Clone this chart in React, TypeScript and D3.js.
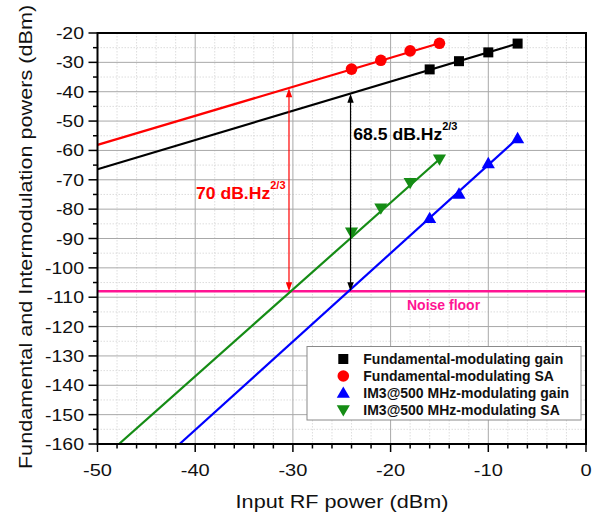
import React from "react";
import * as d3 from "d3";

// ---------- data ----------
const fundGainX = [-16, -13, -10, -7];
const fundGainY = [-32.4, -29.6, -26.6, -23.6];
const fundSaX = [-24, -21, -18, -15];
const fundSaY = [-32.3, -29.3, -26.1, -23.5];
const im3GainX = [-16, -13, -10, -7];
const im3GainY = [-83.1, -74.8, -64.4, -55.9];
const im3SaX = [-24, -21, -18, -15];
const im3SaY = [-87.9, -79.7, -71.0, -63.0];

// fitted lines (endpoints)
const fundGainFitX = [-50, -7];
const fundGainFitY = [-66.4, -23.6];
const fundSaFitX = [-50, -15];
const fundSaFitY = [-58.1, -23.5];
const im3GainFitX = [-41.6, -7];
const im3GainFitY = [-160, -55.9];
const im3SaFitX = [-47.8, -15];
const im3SaFitY = [-160, -63.0];

const noiseFloor = -108;
const arrowX = [-30.4, -24.1];
const arrowTopY = [-38.8, -40.7];
const arrowColors = ["#ff0000", "#000000"];

const xTicks = [-50, -40, -30, -20, -10, 0];
const yTicks = [-20, -30, -40, -50, -60, -70, -80, -90, -100, -110, -120, -130, -140, -150, -160];
const xMinor = d3.range(-48, 0, 2).filter((v) => v % 10 !== 0);
const yMinor = d3.range(-155, -20, 10);

const legendLabels = [
  "Fundamental-modulating gain",
  "Fundamental-modulating SA",
  "IM3@500 MHz-modulating gain",
  "IM3@500 MHz-modulating SA",
];

const RED = "#ff0000";
const BLACK = "#000000";
const BLUE = "#0000ff";
const GREEN = "#158c15";
const MAGENTA = "#ff1493";
const FONT = "'Liberation Sans', Arial, Helvetica, sans-serif";

// ---------- layout ----------
const W = 602;
const H = 518;
const L = 97.5;
const R = 586;
const T = 33;
const B = 444;

const x = d3.scaleLinear().domain([-50, 0]).range([L, R]);
const y = d3.scaleLinear().domain([-160, -20]).range([B, T]);

const zip = (xs: number[], ys: number[]) => xs.map((v, i) => [v, ys[i]] as [number, number]);
const lineGen = d3.line<[number, number]>().x((d) => x(d[0])).y((d) => y(d[1]));

function Marker({ kind, cx, cy, color }: { kind: string; cx: number; cy: number; color: string }) {
  if (kind === "square") return <rect x={cx - 5} y={cy - 5} width={10} height={10} fill={color} />;
  if (kind === "circle") return <circle cx={cx} cy={cy} r={5.8} fill={color} />;
  const sym = d3.symbol().type(d3.symbolTriangle).size(75)();
  if (kind === "up") return <path d={sym || ""} transform={`translate(${cx},${cy + 1})`} fill={color} />;
  return <path d={sym || ""} transform={`translate(${cx},${cy - 1}) rotate(180)`} fill={color} />;
}

function Arrow({ xv, y1v, y2v, color }: { xv: number; y1v: number; y2v: number; color: string }) {
  const px = x(xv);
  const top = y(y1v);
  const bot = y(y2v);
  const hl = 9;
  const hw = 3.2;
  return (
    <g>
      <line x1={px} x2={px} y1={top + hl - 1} y2={bot - hl + 1} stroke={color} strokeWidth={1.2} />
      <path d={`M${px},${top} L${px - hw},${top + hl} L${px + hw},${top + hl} Z`} fill={color} />
      <path d={`M${px},${bot} L${px - hw},${bot - hl} L${px + hw},${bot - hl} Z`} fill={color} />
    </g>
  );
}

export default function App() {
  const series = [
    { fit: zip(fundGainFitX, fundGainFitY), pts: zip(fundGainX, fundGainY), color: BLACK, kind: "square" },
    { fit: zip(fundSaFitX, fundSaFitY), pts: zip(fundSaX, fundSaY), color: RED, kind: "circle" },
    { fit: zip(im3GainFitX, im3GainFitY), pts: zip(im3GainX, im3GainY), color: BLUE, kind: "up" },
    { fit: zip(im3SaFitX, im3SaFitY), pts: zip(im3SaX, im3SaY), color: GREEN, kind: "down" },
  ];
  const legendX = 307;
  const legendY = 346.5;
  const legendRowY = [359, 376, 393, 410];

  return (
    <div style={{ position: "absolute", left: 0, top: 0 }}>
      <svg width={W} height={H} style={{ display: "block", background: "#fff" }} fontFamily={FONT}>
        <defs>
          <clipPath id="plot">
            <rect x={L} y={T} width={R - L} height={B - T} />
          </clipPath>
        </defs>
        {/* minor grid */}
        <g stroke="#d4d4d4" strokeWidth={0.8} strokeDasharray="1.5,1.5">
          {xMinor.map((v) => (
            <line key={"xm" + v} x1={x(v)} x2={x(v)} y1={T} y2={B} />
          ))}
          {yMinor.map((v) => (
            <line key={"ym" + v} x1={L} x2={R} y1={y(v)} y2={y(v)} />
          ))}
        </g>
        {/* major grid */}
        <g stroke="#a8a8a8" strokeWidth={1}>
          {xTicks.slice(1, -1).map((v) => (
            <line key={"xg" + v} x1={x(v)} x2={x(v)} y1={T} y2={B} />
          ))}
          {yTicks.slice(1, -1).map((v) => (
            <line key={"yg" + v} x1={L} x2={R} y1={y(v)} y2={y(v)} />
          ))}
        </g>

        {/* noise floor */}
        <line x1={L} x2={R} y1={y(noiseFloor)} y2={y(noiseFloor)} stroke={MAGENTA} strokeWidth={2.5} />

        {/* fits and markers */}
        <g clipPath="url(#plot)">
          {series.map((s, i) => (
            <path key={"f" + i} d={lineGen(s.fit) || ""} fill="none" stroke={s.color} strokeWidth={2.2} />
          ))}
        </g>
        {series.map((s, i) => (
          <g key={"m" + i}>
            {s.pts.map((p, j) => (
              <Marker key={j} kind={s.kind} cx={x(p[0])} cy={y(p[1])} color={s.color} />
            ))}
          </g>
        ))}

        {/* arrows */}
        {arrowX.map((v, i) => (
          <Arrow key={"a" + i} xv={v} y1v={arrowTopY[i]} y2v={noiseFloor} color={arrowColors[i]} />
        ))}

        {/* annotations */}
        <text
          transform="translate(196,199.3) scale(1.1,1)"
          fill={RED}
          fontWeight="bold"
          fontSize={16}
        >
          70 dB.Hz
          <tspan fontSize={10} dy={-10}>
            2/3
          </tspan>
        </text>
        <text
          transform="translate(353.3,140) scale(1.1,1)"
          fill={BLACK}
          fontWeight="bold"
          fontSize={16}
        >
          68.5 dB.Hz
          <tspan fontSize={10} dy={-10}>
            2/3
          </tspan>
        </text>
        <text x={407} y={310} fill={MAGENTA} fontWeight="bold" fontSize={14}>
          Noise floor
        </text>

        {/* legend */}
        <rect x={legendX} y={legendY} width={581 - legendX} height={420 - legendY} fill="#fff" stroke="#8a8a8a" strokeWidth={1} />
        {series.map((s, i) => (
          <g key={"l" + i}>
            <Marker kind={s.kind} cx={343.3} cy={legendRowY[i]} color={s.color} />
            <text x={363.3} y={legendRowY[i] + 5} fontSize={14} fontWeight="bold" fill="#111">
              {legendLabels[i]}
            </text>
          </g>
        ))}

        {/* frame */}
        <rect x={L} y={T} width={R - L} height={B - T} fill="none" stroke="#000" strokeWidth={2} />

        {/* ticks */}
        <g stroke="#000" strokeWidth={1.5}>
          {xTicks.map((v) => (
            <line key={"xt" + v} x1={x(v)} x2={x(v)} y1={B} y2={B + 8} />
          ))}
          {xMinor.map((v) => (
            <line key={"xmt" + v} x1={x(v)} x2={x(v)} y1={B} y2={B + 4.5} />
          ))}
          {yTicks.map((v) => (
            <line key={"yt" + v} x1={L - 9} x2={L} y1={y(v)} y2={y(v)} />
          ))}
          {yMinor.map((v) => (
            <line key={"ymt" + v} x1={L - 4.5} x2={L} y1={y(v)} y2={y(v)} />
          ))}
        </g>
        {xTicks.map((v) => (
          <text
            key={"xl" + v}
            transform={`translate(${x(v)},476) scale(1.18,1)`}
            textAnchor="middle"
            fontSize={17}
            fill="#111"
          >
            {v}
          </text>
        ))}
        {yTicks.map((v) => (
          <text
            key={"yl" + v}
            transform={`translate(84,${y(v) + 6}) scale(1.18,1)`}
            textAnchor="end"
            fontSize={16.5}
            fill="#111"
          >
            {v}
          </text>
        ))}

        {/* axis titles */}
        <text
          transform={`translate(342,507.5) scale(1.17,1)`}
          textAnchor="middle"
          fontSize={18.5}
          fill="#111"
        >
          Input RF power (dBm)
        </text>
        <text
          transform={`translate(31.5,237) rotate(-90) scale(1.17,1)`}
          textAnchor="middle"
          fontSize={18.5}
          fill="#111"
        >
          Fundamental and Intermodulation powers (dBm)
        </text>
      </svg>
    </div>
  );
}
